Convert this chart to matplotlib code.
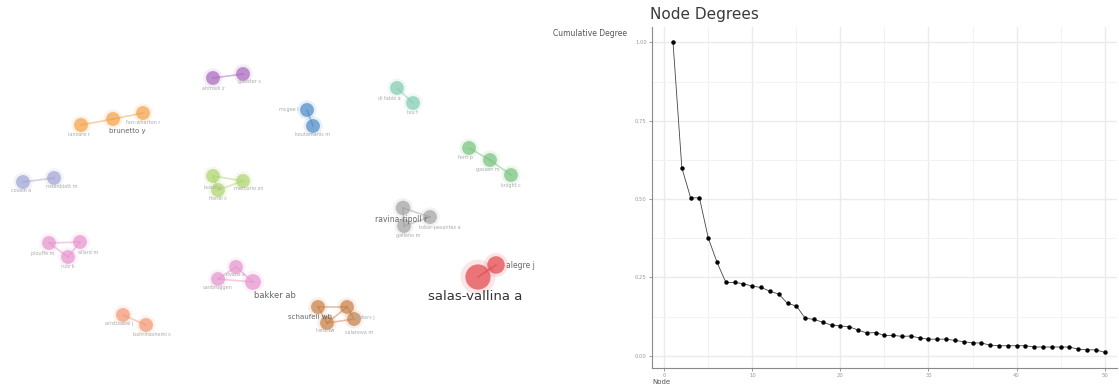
import matplotlib.pyplot as plt
from matplotlib.ticker import MultipleLocator
import numpy as np

# --- Datos: red de co-autores (coordenadas del layout) ---
node_x = [213, 243,                 # morado
          81, 113, 143,             # naranja
          23, 54,                   # lavanda
          213, 243, 218,            # verde claro
          307, 313,                 # azul
          397, 413,                 # turquesa
          469, 490, 511,            # verde
          49, 80, 68,               # rosa 1
          236, 218, 253,            # rosa 2
          123, 146,                 # coral
          403, 430, 404,            # gris
          478, 496,                 # rojo
          318, 347, 327, 354]       # marron
node_y = [78, 74,
          125, 119, 113,
          182, 178,
          176, 181, 190,
          110, 126,
          88, 103,
          148, 160, 175,
          243, 242, 257,
          267, 279, 282,
          315, 325,
          208, 217, 226,
          277, 265,
          307, 307, 323, 319]
node_size = [100, 100,
             100, 100, 100,
             100, 100,
             100, 100, 100,
             100, 100,
             100, 100,
             100, 100, 100,
             100, 100, 100,
             100, 100, 130,
             100, 100,
             110, 100, 100,
             330, 160,
             100, 100, 100, 100]
node_color = ['#a35db8'] * 2 + ['#f39b3a'] * 3 + ['#9a9cd0'] * 2 + ['#a8d165'] * 3 + \
             ['#3f82c2'] * 2 + ['#79c9ac'] * 2 + ['#6cbf74'] * 3 + ['#e58ccb'] * 3 + \
             ['#e58ccb'] * 3 + ['#f19168'] * 2 + ['#9c9c9c'] * 3 + ['#e0383f'] * 2 + \
             ['#c4773a'] * 4
node_label = ['ahmadi z', 'ganster s',
              'lanzara r', 'brunetto y', 'farr-wharton r',
              'cousin a', 'rosenblatt m',
              'bossi g', 'mercurio zn', 'fiorilli c',
              'mcgee l', 'koutamanis m',
              'di fabio a', 'luu t',
              'ferri p', 'gassen m', 'knight c',
              'plouffe m', 'allard m', 'ruiz k',
              'ovans a', 'vanbruggen', 'bakker ab',
              'aristizabal j', 'bahrinashemi s',
              'ravina-ripoll r', 'tobar-pesantez a', 'galiano m',
              'salas-vallina a', 'alegre j',
              'schaufeli wb', 'salanova m', 'taris tw', 'peeters j']
label_size = [3.5, 3.5, 3.5, 5, 3.5, 3.5, 3.5, 3.5, 3.5, 3.5, 3.5, 3.5, 3.5, 3.5,
              3.5, 3.5, 3.5, 3.5, 3.5, 3.5, 3.5, 3.5, 6, 3.5, 3.5, 5.5, 3.5, 3.5,
              9.5, 5.5, 5, 3.5, 3.5, 3.5]
label_dx = [0, 6, -2, 14, 0, -2, 8, 0, 6, 0, -18, 0, -8, 0, -4, -2, 0, -6, 8, 0, 0, 0, 22,
            -4, 6, -2, 10, 4, -3, 24, -8, 12, -2, 10]
label_dy = [10, 8, 10, 12, 9, 9, 9, 12, 8, 9, 0, 9, 10, 9, 10, 10, 10, 10, 10, 9, 8, 9, 13,
            9, 10, 12, 10, 9, 19, 0, 10, 25, 8, -2]
edges = [(0, 1), (2, 3), (3, 4), (5, 6), (7, 8), (7, 9), (8, 9), (10, 11), (12, 13),
         (14, 15), (15, 16), (17, 18), (17, 19), (18, 19), (20, 21), (20, 22), (21, 22),
         (23, 24), (25, 26), (25, 27), (26, 27), (28, 29), (30, 31), (30, 32), (31, 33),
         (32, 33), (31, 32)]

# --- Datos: grados acumulados por nodo ---
node_idx = list(range(1, 51))
cum_degree = [1.000, 0.600, 0.504, 0.504, 0.376, 0.298, 0.234, 0.234, 0.230, 0.222,
              0.218, 0.206, 0.197, 0.167, 0.159, 0.120, 0.116, 0.107, 0.098, 0.095,
              0.093, 0.082, 0.073, 0.074, 0.065, 0.065, 0.062, 0.063, 0.057, 0.053,
              0.053, 0.053, 0.049, 0.045, 0.041, 0.041, 0.034, 0.032, 0.032, 0.032,
              0.032, 0.028, 0.028, 0.028, 0.028, 0.028, 0.021, 0.019, 0.019, 0.011]

fig = plt.figure(figsize=(11.19, 3.87), dpi=100)

# Panel izquierdo: red
axn = fig.add_axes([0, 0, 545 / 1119, 1])
axn.set_xlim(0, 545)
axn.set_ylim(387, 0)
axn.axis('off')

for a, b in edges:
    axn.plot([node_x[a], node_x[b]], [node_y[a], node_y[b]], color=node_color[a],
             linewidth=1.2, alpha=0.45, zorder=1)
axn.scatter(node_x, node_y, s=[v * 1.9 for v in node_size], c=node_color, alpha=0.12,
            linewidths=0, zorder=2)
axn.scatter(node_x, node_y, s=node_size, c=node_color, alpha=0.65, linewidths=0, zorder=3)
for i, lab in enumerate(node_label):
    big = label_size[i] > 4
    axn.text(node_x[i] + label_dx[i], node_y[i] + label_dy[i], lab, fontsize=label_size[i],
             color='#333333' if label_size[i] > 9 else ('#666666' if big else '#aaaaaa'),
             ha='center', va='center', zorder=4)

# Panel derecho: grados de los nodos
ax = fig.add_axes([651.7 / 1119, (387 - 367.7) / 387, (1117 - 651.7) / 1119, (367.7 - 27) / 387])
ax.plot(node_idx, cum_degree, color='#444444', linewidth=0.6, marker='o', markersize=2.2,
        markerfacecolor='black', markeredgecolor='black', zorder=3)
ax.set_xlim(-1.42, 51.4)
ax.set_ylim(-0.038, 1.049)
ax.xaxis.set_major_locator(MultipleLocator(10))
ax.xaxis.set_minor_locator(MultipleLocator(5))
ax.yaxis.set_major_locator(MultipleLocator(0.25))
ax.yaxis.set_minor_locator(MultipleLocator(0.125))
ax.yaxis.set_major_formatter(lambda v, p: f'{v:.2f}')
ax.grid(True, which='major', color='#ebebeb', linewidth=1.0)
ax.grid(True, which='minor', color='#f2f2f2', linewidth=0.7)
ax.set_axisbelow(True)
ax.spines['top'].set_visible(False)
ax.spines['right'].set_visible(False)
ax.spines['left'].set_color('#8a8a8a')
ax.spines['bottom'].set_color('#8a8a8a')
ax.tick_params(which='major', labelsize=3.8, labelcolor='#999999', length=2, color='#8a8a8a',
               width=0.6, pad=1.5)
ax.tick_params(which='minor', length=0)

fig.text(650 / 1119, 1 - 14 / 387, 'Node Degrees', fontsize=11, color='#3a3a3a',
         ha='left', va='center')
fig.text(553 / 1119, 1 - 33 / 387, 'Cumulative Degree', fontsize=5.5, color='#555555',
         ha='left', va='center')
fig.text(652 / 1119, 1 - 382 / 387, 'Node', fontsize=5, color='#555555', ha='left',
         va='center')

fig.savefig('out.png', dpi=100)
